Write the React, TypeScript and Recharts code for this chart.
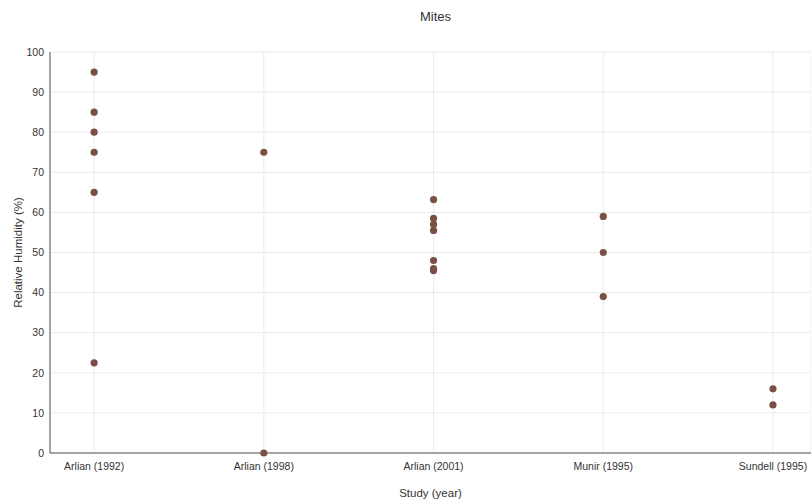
import React from 'react';
import { ScatterChart, Scatter, XAxis, YAxis, CartesianGrid } from 'recharts';

const studies = ['Arlian (1992)', 'Arlian (1998)', 'Arlian (2001)', 'Munir (1995)', 'Sundell (1995)'];

const arlian1992 = [95, 85, 80, 75, 65, 22.5];
const arlian1998 = [75, 0];
const arlian2001 = [63.2, 58.5, 57, 55.5, 48, 46, 45.5];
const munir1995 = [59, 50, 39];
const sundell1995 = [16, 12];

const humidityByStudy = [arlian1992, arlian1998, arlian2001, munir1995, sundell1995];

const yTicks = [0, 10, 20, 30, 40, 50, 60, 70, 80, 90, 100];

const points = humidityByStudy.flatMap((values, i) => values.map((v) => ({ study: i, rh: v })));

const FONT = '"Liberation Sans", Arial, sans-serif';

export default function App() {
  return (
    <div style={{ position: 'absolute', left: 0, top: 0, width: 811, height: 502, background: '#fff', fontFamily: FONT }}>
      <div style={{ position: 'absolute', left: 0, width: 871, top: 9, textAlign: 'center', fontSize: 13, color: '#333' }}>
        Mites
      </div>
      <ScatterChart width={811} height={502} margin={{ top: 52, right: 0, bottom: 0, left: 0 }}>
        <CartesianGrid stroke="#ebebeb" ticks={yTicks} />
        <XAxis
          type="number"
          dataKey="study"
          domain={[-0.26, 4.224]}
          ticks={[0, 1, 2, 3, 4]}
          tickFormatter={(v: number) => studies[v] ?? ''}
          height={49}
          tickLine={false}
          tickMargin={4}
          stroke="#555"
          tick={{ fontSize: 10.5, fill: '#333', fontFamily: FONT }}
          label={{ value: 'Study (year)', position: 'insideBottom', offset: 5, fontSize: 11.5, fill: '#333', fontFamily: FONT }}
          allowDataOverflow
        />
        <YAxis
          type="number"
          dataKey="rh"
          domain={[0, 100]}
          ticks={yTicks}
          width={50}
          tickLine={false}
          tickMargin={0}
          stroke="#555"
          tick={{ fontSize: 10.5, fill: '#333', fontFamily: FONT }}
          label={{ value: 'Relative Humidity (%)', angle: -90, position: 'insideLeft', offset: 18, fontSize: 11.5, fill: '#333', fontFamily: FONT, style: { textAnchor: 'middle' } }}
        />
        <Scatter data={points} fill="#7b4f45" shape={(p: any) => <circle cx={p.cx} cy={p.cy} r={3.6} fill="#7b4f45" />} isAnimationActive={false} />
      </ScatterChart>
    </div>
  );
}
